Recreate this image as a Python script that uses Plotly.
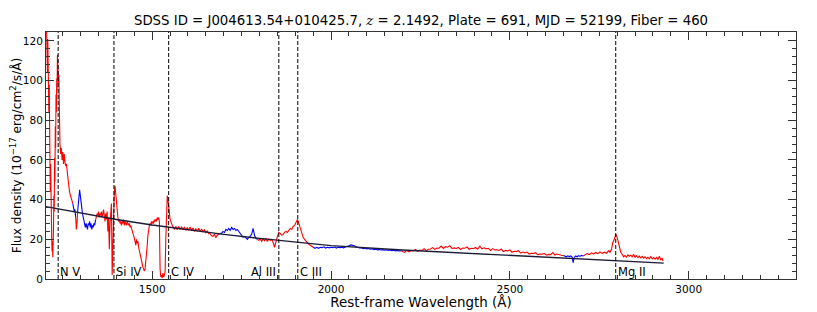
import plotly.graph_objects as go

# ---------------- data ----------------
# Region A: 1204-1278 A (red)
WAVE_A = list(range(1204, 1243)) + list(range(1244, 1279, 2))
FLUX_A = [132, 118, 128, 104, 121, 96, 112, 84, 98, 62,
          78, 44, 58, 30, 47, 20, 14, 19, 11, 16,
          26, 42, 34, 61, 49, 77, 66, 93, 84, 101,
          95, 113, 107, 111, 99, 103, 86, 74, 68,
          63, 66, 60, 64, 58, 63, 59, 57, 58, 54,
          51, 48, 45, 43, 42, 40, 39, 38]
# Region B: 1280-1342 (mostly continuum window)
WAVE_B = [1280, 1282, 1284, 1286, 1288, 1290] + list(range(1291, 1342, 2)) + [1342]
FLUX_B = [36, 34, 35, 31, 25, 29,
          33, 38, 43, 45, 42, 40, 36, 33, 31, 29,
          28, 26, 28, 27, 25, 28, 27, 29, 26, 28,
          25, 27, 26, 28, 27, 29, 30]
# Region C: Si IV
WAVE_C = list(range(1344, 1405, 2))
FLUX_C = [31, 33, 32, 34, 31, 33, 32, 34, 31, 33,
          35, 32, 29, 33, 30, 34, 24, 31, 15, 28,
          35, 38, 2, 20, 38, 44, 47, 42, 37, 34, 31]
# Region D: BAL troughs and C IV
WAVE_D = list(range(1406, 1561, 2))
FLUX_D = [29, 30, 28, 29, 27, 29, 28, 30, 27, 29,
          28, 27, 29, 28, 27, 28, 26, 27, 25, 25,
          23, 22, 21, 19, 17, 20, 18, 19, 16, 14,
          12, 11, 9, 8, 6, 5, 4, 5, 8, 12,
          17, 22, 26, 27, 28, 27, 29, 28, 29, 28,
          30, 29, 30, 29, 31, 30, 31, 29, 5, 1,
          2, 0.5, 3, 1, 2, 4, 20, 37, 42, 40,
          36, 32, 30, 29, 27, 27, 26, 26]
# Region E: 1562-1690
WAVE_E = list(range(1562, 1691, 4))
FLUX_E = [25, 26.5, 24.8, 26.5, 25, 26.3, 24.8, 26.2, 24.5, 25.8,
          24.8, 26.2, 24.3, 25.7, 24, 25.3, 24.2, 25.6, 23.8, 25.2,
          23.8, 24.8, 23.3, 24.2, 22.8, 22.8, 21.8, 21.5, 22.6, 20.8,
          22.2, 22.4, 23]
# Region F: 1694-1794 (continuum window)
WAVE_F = list(range(1694, 1795, 4))
FLUX_F = [23, 24, 23.5, 25, 24.5, 25.5, 24.5, 26, 25, 25.5,
          24.5, 25, 24, 23, 22, 21, 21.5, 20.5, 20, 21,
          21.5, 22.5, 25.5, 22, 20.5, 20]
# Region G: Al III / C III]
WAVE_G = list(range(1798, 1951, 4))
FLUX_G = [19.5, 20.3, 19, 20.2, 19.3, 20.6, 18.9, 20.2, 19.4, 20,
          18.5, 16, 19.5, 21.5, 23.5, 23, 22, 22.5, 23.5, 24,
          23.5, 24.5, 25.5, 25, 26.5, 27, 28.5, 30, 28, 25.5,
          23, 21, 20, 19, 18.5, 17.5, 17, 16.5, 16]
# Region H: 1955-2195 (continuum window)
WAVE_H = list(range(1955, 2196, 5))
FLUX_H = [15.5, 16, 15.5, 16, 15.8, 16.2, 15.6, 16, 15.7, 16,
          15.8, 16.1, 15.6, 16, 15.8, 16, 15.7, 16.1, 16.3, 16.8,
          17.2, 17, 16.8, 16.2, 15.8, 15.6, 15.7, 15.3, 15.5, 15.2,
          15.4, 15, 15.2, 14.8, 15, 14.7, 14.9, 14.6, 14.8, 14.5,
          14.7, 14.4, 14.6, 14.3, 14.5, 14.2, 14.4, 14.1, 14.3]
# Region I: 2200-2650
WAVE_I = list(range(2200, 2651, 6))
FLUX_I = [14, 13.4, 14.4, 13.7, 14.3, 14.1, 14.9, 14.0, 14.6, 14.4,
          15.3, 14.3, 15.0, 15.1, 15.8, 14.9, 15.6, 15.5, 16.6, 15.4,
          16.3, 16.0, 16.8, 15.4, 15.7, 15.4, 15.9, 14.9, 15.6, 15.5,
          16.2, 15.0, 15.5, 15.3, 15.9, 15.0, 16.6, 15.2, 15.7, 15.2,
          15.5, 14.4, 15.3, 14.6, 14.7, 14.4, 15.1, 13.8, 14.4, 14.1,
          14.7, 13.5, 14.0, 13.8, 14.3, 13.1, 13.6, 13.2, 13.6, 12.6,
          13.0, 12.9, 13.3, 12.2, 12.6, 12.5, 12.9, 12.0, 12.4, 12.3,
          13.3, 12.1, 12.6, 12.2, 12.0, 11.8]
# Region J: 2654-2705 (continuum window)
WAVE_J = [2654, 2658, 2662, 2666, 2670, 2674, 2677, 2680, 2684, 2688, 2692, 2696, 2700, 2705]
FLUX_J = [11.5, 11.2, 11.7, 11.3, 11.6, 11.1, 8.3, 11, 11.6, 11.2, 11.8, 11.4, 11.9, 11.6]
# Region K: Mg II to end
WAVE_K = (list(range(2710, 2777, 6)) + [2780, 2784, 2788, 2792, 2796, 2799, 2802]
          + list(range(2806, 2927, 4)) + [2928])
FLUX_K = [12.2, 12.8, 12.3, 13.2, 12.6, 13.4, 12.8, 13.6, 12.9, 13.5,
          13, 14.2, 13.5, 15, 18.5, 20, 22.5, 21.5, 19.5,
          16, 13.5, 12.5, 11.2, 11.8, 11, 12.2, 11.5, 12, 11.2,
          12.5, 11, 11.8, 10.8, 11.5, 10.6, 11.4, 10.5, 11.2, 10.3,
          11, 10.2, 11.3, 10.1, 10.8, 10, 10.9, 9.9, 11.5, 9.5,
          10.5, 9]

# continuum windows drawn in blue
BLUE_WINDOWS = [(1278, 1286), (1291, 1342), (1690, 1794), (1950, 2195), (2650, 2705)]

# power-law continuum fit
CONT_WAVE = [1203, 1300, 1400, 1500, 1600, 1700, 1800, 1900, 2000, 2200, 2400, 2600, 2800, 2930]
CONT_FLUX = [36.5, 33.2, 30.0, 27.2, 24.8, 22.5, 20.5, 18.6, 16.8, 14.6, 12.8, 11.1, 9.3, 8.0]

# emission lines (positions as drawn in the reference)
LINE_NAMES = ["N V", "Si IV", "C IV", "Al III", "C III", "Mg II"]
LINE_WAVES = [1237, 1393, 1546, 1854, 1907, 2796]
LINE_LABEL_SIDE = ["left", "left", "left", "right", "left", "left"]

X_TICKS = [1500, 2000, 2500, 3000]
Y_TICKS = [0, 20, 40, 60, 80, 100, 120]
X_RANGE = [1203, 3300]
Y_RANGE = [0, 124.5]

TITLE = ("SDSS ID = J004613.54+010425.7, <span style=\"font-family:'DejaVu Serif'\"><i>z</i></span>"
         " = 2.1492, Plate = 691, MJD = 52199, Fiber = 460")

# ---------------- assemble ----------------
regions = [(WAVE_A, FLUX_A), (WAVE_B, FLUX_B), (WAVE_C, FLUX_C), (WAVE_D, FLUX_D),
           (WAVE_E, FLUX_E), (WAVE_F, FLUX_F), (WAVE_G, FLUX_G), (WAVE_H, FLUX_H),
           (WAVE_I, FLUX_I), (WAVE_J, FLUX_J), (WAVE_K, FLUX_K)]
wave, flux = [], []
for w, f in regions:
    assert len(w) == len(f), (w[0], len(w), len(f))
    wave += w
    flux += f


def in_blue(l, strict):
    for a, b in BLUE_WINDOWS:
        if (a < l < b) if strict else (a <= l <= b):
            return True
    return False


red_y = [None if in_blue(l, True) else f for l, f in zip(wave, flux)]
blue_y = [f if in_blue(l, False) else None for l, f in zip(wave, flux)]

fig = go.Figure()
fig.add_trace(go.Scatter(x=wave, y=red_y, mode="lines",
                         line=dict(color="#ff0000", width=1.1), connectgaps=False,
                         showlegend=False, hoverinfo="skip"))
fig.add_trace(go.Scatter(x=wave, y=blue_y, mode="lines",
                         line=dict(color="#0000ff", width=1.1), connectgaps=False,
                         showlegend=False, hoverinfo="skip"))
fig.add_trace(go.Scatter(x=CONT_WAVE, y=CONT_FLUX, mode="lines",
                         line=dict(color="#1c1c38", width=1.4),
                         showlegend=False, hoverinfo="skip"))
# empty trace so the mirrored (top/right) tick axes exist
fig.add_trace(go.Scatter(x=[], y=[], xaxis="x2", yaxis="y2", showlegend=False,
                         hoverinfo="skip"))

FONT = "DejaVu Sans"
for name, lw, side in zip(LINE_NAMES, LINE_WAVES, LINE_LABEL_SIDE):
    fig.add_shape(type="line", x0=lw, x1=lw, xref="x", y0=0, y1=1, yref="paper",
                  line=dict(color="black", width=1, dash="4px,2px"))
    fig.add_annotation(x=lw, y=0, xref="x", yref="y", text=name, showarrow=False,
                       xanchor=side, yanchor="bottom",
                       xshift=1 if side == "left" else -2, yshift=-1,
                       borderpad=0, font=dict(family=FONT, size=11.5, color="black"))

# page has an 8px body margin; figure geometry compensates for it
fig.update_layout(
    width=805, height=302,
    margin=dict(l=38, r=17, t=24, b=31, autoexpand=False),
    paper_bgcolor="white", plot_bgcolor="white",
    font=dict(family=FONT, color="black", size=11),
    title=dict(text=TITLE, x=0.5, xref="paper", xanchor="center",
               y=1 - 12.5 / 302, yref="container", yanchor="middle",
               font=dict(family=FONT, size=13.3, color="black")),
)

AX_COL = "#333"
common = dict(ticks="inside", ticklen=8, tickcolor=AX_COL, tickwidth=1,
              showline=True, linecolor=AX_COL, linewidth=1,
              showgrid=False, zeroline=False, tickmode="array")
xminor = dict(ticks="inside", ticklen=4, dtick=50, tick0=0, tickcolor=AX_COL)
yminor = dict(ticks="inside", ticklen=4, dtick=4, tick0=0, tickcolor=AX_COL)

fig.update_layout(
    xaxis=dict(range=X_RANGE, tickvals=X_TICKS, ticktext=[str(t) for t in X_TICKS],
               minor=xminor, mirror=False,
               tickfont=dict(family=FONT, size=10.5),
               title=dict(text="Rest-frame Wavelength (Å)", standoff=1,
                          font=dict(family=FONT, size=13.4)), **common),
    yaxis=dict(range=Y_RANGE, tickvals=Y_TICKS, ticktext=[str(t) for t in Y_TICKS],
               minor=yminor, mirror=False,
               tickfont=dict(family=FONT, size=10.5),
               title=dict(text="Flux density (10<sup>−17</sup> erg/cm<sup>2</sup>/s/Å)",
                          standoff=2, font=dict(family=FONT, size=12.2)), **common),
    xaxis2=dict(range=X_RANGE, tickvals=X_TICKS, overlaying="x", side="top", anchor="y2",
                showticklabels=False, minor=xminor, **common),
    yaxis2=dict(range=Y_RANGE, tickvals=Y_TICKS, overlaying="y", side="right", anchor="x2",
                showticklabels=False, minor=yminor, **common),
)

fig.write_html("out.html")
